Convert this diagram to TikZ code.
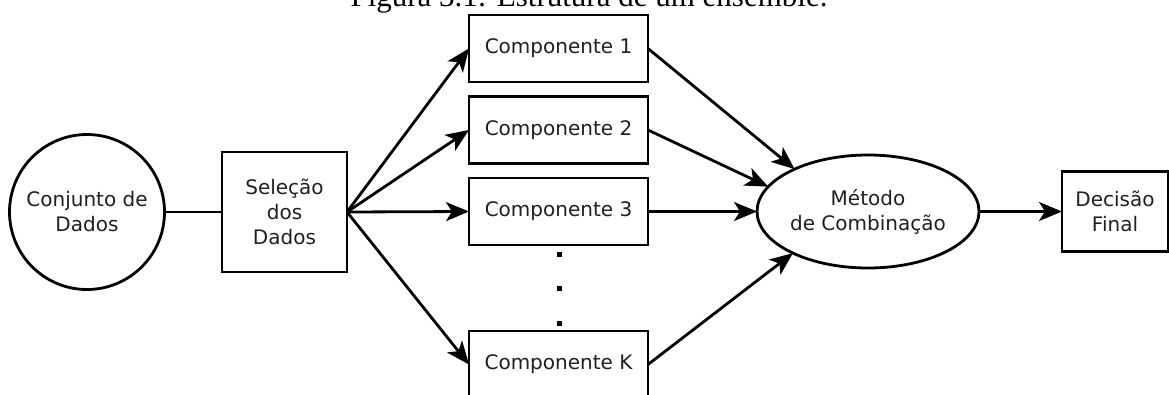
\documentclass[tikz,border=0pt]{standalone}
\usepackage{fontspec}
\setmainfont{DejaVu Sans}
\newfontfamily\captionfont{Liberation Serif}
\usetikzlibrary{arrows.meta,shapes.geometric}

\tikzset{
  base/.style={draw, line width=2.8pt, inner sep=0pt, outer sep=0pt, align=center,
    text=black!88, font=\fontsize{20}{25}\selectfont},
  rectnode/.style={base, rectangle},
  compbox/.style={rectnode, minimum width=179pt, minimum height=67pt},
  roundnode/.style={base, circle, minimum size=155pt},
  ovalnode/.style={base, ellipse, minimum width=222pt, minimum height=113pt},
  link/.style={line width=2.8pt},
  flow/.style={link, -{Stealth[length=23pt, width=19pt, inset=6pt]}},
  dotmark/.style={fill=black, minimum size=5pt, inner sep=0pt, rectangle},
}

\begin{document}
\begin{tikzpicture}[x=1pt, y=-1pt]
  \path[use as bounding box, clip] (0,0) rectangle (1169,394);

  % figure caption, cut by the top edge
  \node[anchor=base, inner sep=0pt, font=\captionfont\fontsize{31}{36}\selectfont]
    (caption) at (589,6) {Figura 3.1: Estrutura de um ensemble.};

  % nodes
  \node[roundnode] (dados) at (87,212) {Conjunto de\\Dados};
  \node[rectnode, minimum width=125pt, minimum height=120pt] (sel) at (284.5,212) {Seleção\\dos\\Dados};
  \node[compbox] (c1) at (558.5,48.5) {Componente 1};
  \node[compbox] (c2) at (558.5,130) {Componente 2};
  \node[compbox] (c3) at (558.5,211.5) {Componente 3};
  \node[compbox] (ck) at (558.5,364.5) {Componente K};
  \node[ovalnode] (met) at (868,211.5) {Método\\de Combinação};
  \node[rectnode, minimum width=106pt, minimum height=80pt] (dec) at (1115,211.5) {Decisão\\Final};

  % vertical ellipsis between the components
  \node[dotmark] (d1) at (559,254) {};
  \node[dotmark] (d2) at (559,288.5) {};
  \node[dotmark] (d3) at (559,323) {};

  % connectors
  \draw[link] (dados.east) -- (sel.west);
  \draw[flow] (sel.east) -- (c1.west);
  \draw[flow] (sel.east) -- (c2.west);
  \draw[flow] (sel.east) -- (c3.west);
  \draw[flow] (sel.east) -- (ck.west);
  \draw[flow] (c1.east) -- (met.150);
  \draw[flow] (c2.east) -- (met.166);
  \draw[flow] (c3.east) -- (met.west);
  \draw[flow] (ck.east) -- (met.209);
  \draw[flow] (met.east) -- (dec.west);
\end{tikzpicture}
\end{document}
